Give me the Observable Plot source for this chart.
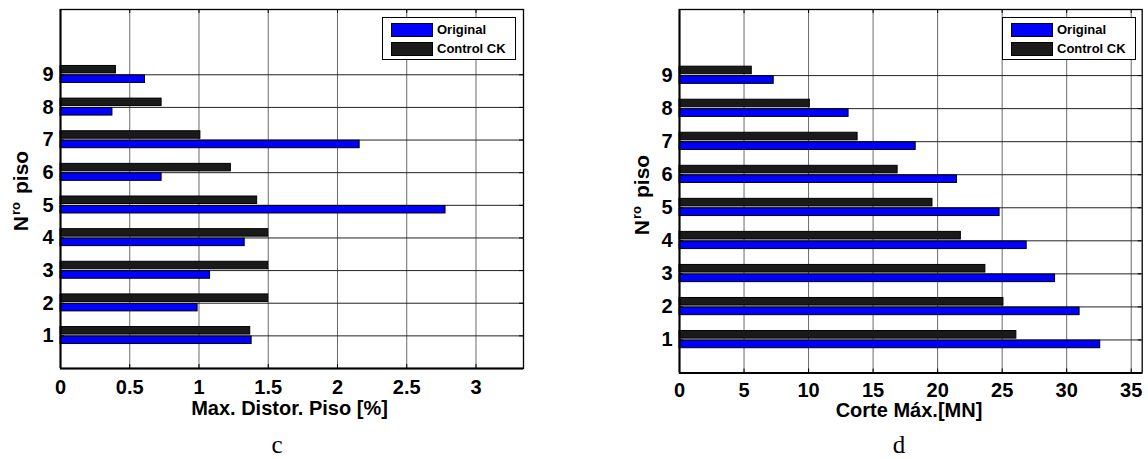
<!DOCTYPE html>
<html>
<head>
<meta charset="utf-8">
<script src="https://cdn.jsdelivr.net/npm/d3@7"></script>
<script src="https://cdn.jsdelivr.net/npm/@observablehq/plot@0.6"></script>
<style>
  body { margin: 0; background: #fff; }
  #wrap { position: relative; width: 1148px; height: 459px; overflow: hidden;
          font-family: "Liberation Sans", Arial, sans-serif; color: #000; }
  .panel { position: absolute; top: 0; }
  .ylab { position: absolute; font-weight: bold; font-size: 21px; line-height: 1;
          white-space: nowrap; transform: translate(-50%, -50%) rotate(-90deg); }
  .ylab .sup { font-size: 13px; position: relative; top: -8px; margin-left: 1px; margin-right: 8px; }
  .xlab { position: absolute; font-weight: bold; font-size: 20px; line-height: 1;
          white-space: nowrap; transform: translateX(-50%); }
  .cap { position: absolute; font-family: "Liberation Serif", "Times New Roman", serif;
         font-size: 25px; line-height: 1; transform: translateX(-50%); }
  .legend { position: absolute; width: 134px; height: 43px; border: 1px solid #000;
            background: #fff; box-sizing: border-box; }
  .legend .row { position: absolute; left: 8px; height: 15px; display: flex; align-items: center; }
  .legend .sw { width: 42px; height: 14px; border: 1px solid #000; box-sizing: border-box; margin-right: 4px; }
  .legend .lb { font-weight: bold; font-size: 13px; }
</style>
</head>
<body>
<div id="wrap"></div>
<script>
// Floors of the building (y axis categories)
const floors = [1, 2, 3, 4, 5, 6, 7, 8, 9];
const seriesNames = ["Original", "Control CK"];
const seriesColors = ["#0000ff", "#1a1a1a"];

// Panel c: maximum inter-storey drift [%]
const driftOriginal = [1.38, 0.99, 1.08, 1.33, 2.78, 0.73, 2.16, 0.375, 0.61];
const driftControl  = [1.37, 1.50, 1.50, 1.50, 1.42, 1.23, 1.01, 0.73, 0.40];
const driftTicks = [0, 0.5, 1, 1.5, 2, 2.5, 3];

// Panel d: maximum storey shear [MN]
const shearOriginal = [32.6, 31.0, 29.1, 26.9, 24.8, 21.5, 18.3, 13.1, 7.3];
const shearControl  = [26.1, 25.1, 23.7, 21.8, 19.6, 16.9, 13.8, 10.1, 5.6];
const shearTicks = [0, 5, 10, 15, 20, 25, 30, 35];

function rowsOf(orig, ctrl) {
  return floors.flatMap((f, i) => [
    {floor: f, series: seriesNames[0], value: orig[i]},
    {floor: f, series: seriesNames[1], value: ctrl[i]}
  ]);
}

function barPanel({rows, xMax, xTicks, width, height, marginLeft, marginRight, marginBottom, padX}) {
  const yTop = 11;
  const innerW = width - marginLeft - marginRight;
  const innerH = height - 9 - marginBottom;
  const tx = 4 * xMax / innerW;   // inward tick length in x units
  const ty = 4 * yTop / innerH;   // inward tick length in y units
  return Plot.plot({
    width, height, marginLeft, marginRight, marginTop: 9, marginBottom,
    style: {fontFamily: "Liberation Sans, Arial, sans-serif", fontWeight: "bold",
            fontSize: "20px", color: "#000", background: "#fff", overflow: "visible"},
    x: {domain: [0, xMax], ticks: xTicks, tickFormat: d => String(d),
        tickSize: 0, tickPadding: padX, label: null},
    y: {domain: [0, yTop], ticks: floors, tickFormat: d => String(d),
        tickSize: 0, tickPadding: 7, label: null},
    color: {domain: seriesNames, range: seriesColors},
    marks: [
      Plot.ruleX(xTicks.filter(d => d > 0), {stroke: "#6a6a6a", strokeWidth: 1}),
      Plot.ruleY(floors, {stroke: "#222", strokeWidth: 1}),
      Plot.rectX(rows, {
        x1: 0, x2: "value",
        y1: d => d.floor + (d.series === "Original" ? -0.25 : 0.04),
        y2: d => d.floor + (d.series === "Original" ? -0.02 : 0.27),
        fill: "series", stroke: "#000", strokeWidth: 1
      }),
      // inward tick marks on all four sides
      Plot.ruleX(xTicks, {y1: 0, y2: ty, stroke: "#000"}),
      Plot.ruleX(xTicks, {y1: yTop - ty, y2: yTop, stroke: "#000"}),
      Plot.ruleY(floors, {x1: 0, x2: tx, stroke: "#000"}),
      Plot.ruleY(floors, {x1: xMax - tx, x2: xMax, stroke: "#000"}),
      Plot.frame({stroke: "#000", strokeWidth: 1.3}),
      Plot.ruleY([0], {stroke: "#000", strokeWidth: 2}),
      Plot.ruleX([0], {stroke: "#000", strokeWidth: 2})
    ]
  });
}

const wrap = document.getElementById("wrap");

function place(node, left) {
  node.classList.add("panel");
  node.style.left = left + "px";
  wrap.appendChild(node);
}

place(barPanel({rows: rowsOf(driftOriginal, driftControl), xMax: 3.343, xTicks: driftTicks,
                width: 560, height: 430, marginLeft: 60, marginRight: 37, marginBottom: 62, padX: 11}), 0);
place(barPanel({rows: rowsOf(shearOriginal, shearControl), xMax: 35.85, xTicks: shearTicks,
                width: 568, height: 430, marginLeft: 99, marginRight: 6.3, marginBottom: 57.5, padX: 10}), 580);

function addHTML(cls, html, left, top) {
  const d = document.createElement("div");
  d.className = cls;
  d.innerHTML = html;
  d.style.left = left + "px";
  d.style.top = top + "px";
  wrap.appendChild(d);
  return d;
}

// axis titles
addHTML("ylab", 'N<span class="sup">ro</span>piso', 20.4, 191);
addHTML("ylab", 'N<span class="sup">ro</span>piso', 640.5, 195);
addHTML("xlab", "Max. Distor. Piso [%]", 289.5, 398.4);
addHTML("xlab", "Corte Máx.[MN]", 909, 400);

// panel letters
addHTML("cap", "c", 277, 432);
addHTML("cap", "d", 899, 432);

// legends
function legend(left) {
  const rowsHTML = seriesNames.map((s, i) =>
    `<div class="row" style="top:${i === 0 ? 4 : 23}px"><div class="sw" style="background:${seriesColors[i]}"></div><span class="lb">${s}</span></div>`
  ).join("");
  addHTML("legend", rowsHTML, left, 17);
}
legend(382);
legend(1002);
</script>
</body>
</html>
